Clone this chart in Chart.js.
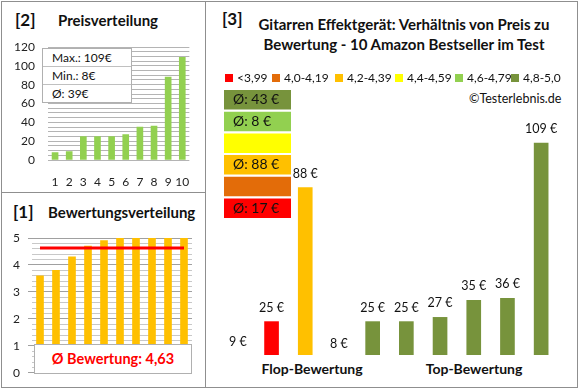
<!DOCTYPE html>
<html>
<head>
<meta charset="utf-8">
<script src="https://cdn.jsdelivr.net/npm/chart.js@4.4.1/dist/chart.umd.min.js"></script>
<style>
body { margin: 0; width: 580px; height: 390px; background: #fff; position: relative; overflow: hidden; font-family: Lato, sans-serif; color: #111; }
canvas { position: absolute; }
.ln { position: absolute; background: #8f8f8f; }
.t { position: absolute; white-space: nowrap; }
.hd { font-weight: bold; font-size: 15px; }
.num { font-size: 17px; font-weight: bold; }
.info { position: absolute; left: 42px; top: 48px; width: 88px; background: #fff; border: 1px solid #b0b0b0; font-size: 12px; }
.info div { height: 17px; line-height: 17px; padding-left: 9px; border-top: 1px solid #c0c0c0; }
.info div:first-child { border-top: none; }
.avgbox { position: absolute; left: 34px; top: 344px; width: 156px; height: 28px; background: #fff; border: 1px solid #b0b0b0; color: #ff0000; font-size: 14.5px; font-weight: bold; line-height: 28px; text-align: center; }
.lg { position: absolute; top: 71px; font-size: 12px; height: 14px; line-height: 14px; }
.lg span { display: inline-block; width: 8px; height: 8px; margin-right: 4px; vertical-align: 0px; }
</style>
</head>
<body>
<div class="ln" style="left:1px;top:1px;width:577px;height:1px"></div>
<div class="ln" style="left:1px;top:387px;width:577px;height:1px"></div>
<div class="ln" style="left:1px;top:1px;width:1px;height:387px"></div>
<div class="ln" style="left:577px;top:1px;width:1px;height:387px"></div>
<div class="ln" style="left:205px;top:1px;width:1px;height:387px"></div>
<div class="ln" style="left:1px;top:192px;width:204px;height:1px"></div>

<div class="t num" style="left:15px;top:9px">[2]</div>
<div class="t hd" style="left:58px;top:11px">Preisverteilung</div>
<div class="t num" style="left:13px;top:201px">[1]</div>
<div class="t hd" style="left:48px;top:203px">Bewertungsverteilung</div>
<div class="t num" style="left:222px;top:8px">[3]</div>
<div class="t hd" style="left:244px;top:14px;width:320px;text-align:center;font-size:15px;line-height:20px">Gitarren Effektgerät: Verhältnis von Preis zu<br>Bewertung - 10 Amazon Bestseller im Test</div>
<div class="t" style="left:469px;top:91px;font-size:12.5px">©Testerlebnis.de</div>
<div class="t hd" style="left:312px;top:360px;transform:translateX(-50%);font-size:14px">Flop-Bewertung</div>
<div class="t hd" style="left:474px;top:360px;transform:translateX(-50%);font-size:14px">Top-Bewertung</div>

<canvas id="c2" width="205" height="192" style="left:0;top:0"></canvas>
<canvas id="c1" width="205" height="196" style="left:0;top:192px"></canvas>
<canvas id="c3" width="373" height="388" style="left:205px;top:0"></canvas>
<canvas id="c4" width="67" height="130" style="left:224px;top:89px"></canvas>

<div class="info" id="info"></div>
<div class="avgbox" id="avg"></div>
<div id="legend"></div>

<script>
// panel [2] - prices sorted
const priceRanks = ['1', '2', '3', '4', '5', '6', '7', '8', '9', '10'];
const prices = [8, 9, 25, 25, 25, 27, 35, 36, 88, 109];
const priceInfo = ['Max.: 109€', 'Min.: 8€', 'Ø: 39€'];

// panel [1] - ratings sorted
const ratings = [3.6, 3.8, 4.3, 4.7, 4.9, 5.0, 5.0, 5.0, 5.0, 5.0];
const ratingAvg = 4.63;
const ratingAvgText = 'Ø Bewertung: 4,63';

// panel [3] - price per product, ordered by rating
const products = ['P1', 'P2', 'P3', 'P4', 'P5', 'P6', 'P7', 'P8', 'P9', 'P10'];
const productPrices = [9, 25, 88, 8, 25, 25, 27, 35, 36, 109];
const productColors = ['#FF0000', '#FF0000', '#FFC000', '#92D050', '#77933C', '#77933C', '#77933C', '#77933C', '#77933C', '#77933C'];

const legendLabels = ['<3,99', '4,0-4,19', '4,2-4,39', '4,4-4,59', '4,6-4,79', '4,8-5,0'];
const legendColors = ['#FF0000', '#E36C09', '#FFC000', '#FFFF00', '#92D050', '#77933C'];
const legendLeft = [225, 272, 335, 395, 455, 511];

// average boxes, top to bottom
const groupNames = ['4,8-5,0', '4,6-4,79', '4,4-4,59', '4,2-4,39', '4,0-4,19', '<3,99'];
const groupLabels = ['Ø: 43 €', 'Ø: 8 €', '', 'Ø: 88 €', '', 'Ø: 17 €'];
const groupColors = ['#77933C', '#92D050', '#FFFF00', '#FFC000', '#E36C09', '#FF0000'];

const FONT = 'Lato';
Chart.defaults.font.family = FONT;
Chart.defaults.animation = false;
Chart.defaults.responsive = false;
Chart.defaults.plugins.legend.display = false;
Chart.defaults.plugins.tooltip.enabled = false;

document.getElementById('info').innerHTML = priceInfo.map(s => '<div>' + s + '</div>').join('');
document.getElementById('avg').textContent = ratingAvgText;
document.getElementById('legend').innerHTML = legendLabels.map((l, i) =>
    '<div class="lg" style="left:' + legendLeft[i] + 'px"><span style="background:' + legendColors[i] + '"></span>' + l + '</div>').join('');

function isStep(v, s) {
    return Math.abs(v / s - Math.round(v / s)) < 1e-6;
}

new Chart(document.getElementById('c2'), {
    type: 'bar',
    data: {
        labels: priceRanks,
        datasets: [{ data: prices, backgroundColor: '#92D050', barThickness: 6 }]
    },
    options: {
        layout: { padding: { left: 0, top: 47, right: 15, bottom: 0 } },
        scales: {
            x: {
                grid: { display: false, drawTicks: false },
                border: { display: false },
                ticks: { padding: 15, autoSkip: false, maxRotation: 0, minRotation: 0, color: '#222', font: { size: 12 } },
                afterFit(a) { a.height = 32; }
            },
            y: {
                min: 0,
                max: 120,
                border: { display: false },
                grid: { drawTicks: false, color: '#b4b4b4' },
                ticks: {
                    stepSize: 5, autoSkip: false, maxTicksLimit: 100, padding: 13,
                    color: '#222', font: { size: 12 },
                    callback: v => isStep(v, 20) ? Math.round(v) : ''
                },
                afterFit(a) { a.width = 48; }
            }
        }
    }
});

new Chart(document.getElementById('c1'), {
    type: 'bar',
    data: {
        labels: priceRanks,
        datasets: [
            { type: 'line', data: ratings.map(() => ratingAvg), borderColor: '#FF0000', borderWidth: 3, pointRadius: 0, order: 0 },
            { data: ratings, backgroundColor: '#FFC000', barThickness: 7, order: 1 }
        ]
    },
    options: {
        layout: { padding: { left: 0, top: 46, right: 13, bottom: 15 } },
        scales: {
            x: { display: false },
            y: {
                min: 0,
                max: 5,
                border: { display: false },
                grid: {
                    tickLength: 4,
                    color: c => isStep(c.tick.value, 1) ? '#a0a0a0' : '#c8c8c8',
                    tickColor: c => isStep(c.tick.value, 1) ? '#a0a0a0' : 'rgba(0,0,0,0)'
                },
                ticks: {
                    stepSize: 0.2, autoSkip: false, maxTicksLimit: 100, padding: 8,
                    color: '#222', font: { size: 12 },
                    callback: v => isStep(v, 1) ? Math.round(v) : ''
                },
                afterFit(a) { a.width = 32; }
            }
        }
    }
});

const priceLabels = {
    id: 'priceLabels',
    afterDatasetsDraw(chart) {
        const ctx = chart.ctx;
        const meta = chart.getDatasetMeta(0);
        ctx.save();
        ctx.font = '12.5px ' + FONT;
        ctx.fillStyle = '#111';
        ctx.textAlign = 'center';
        ctx.textBaseline = 'middle';
        meta.data.forEach((bar, i) => {
            const y = Math.min(bar.y, bar.base) - 14;
            ctx.fillText(productPrices[i] + ' €', bar.x, y);
        });
        ctx.restore();
    }
};

new Chart(document.getElementById('c3'), {
    type: 'bar',
    data: {
        labels: products,
        datasets: [{ data: productPrices, backgroundColor: productColors, barThickness: 14 }]
    },
    options: {
        layout: { padding: { left: 16, top: 109, right: 20, bottom: 33 } },
        scales: {
            x: { display: false },
            y: { display: false, min: 9.3, max: 125 }
        }
    },
    plugins: [priceLabels]
});

const groupText = {
    id: 'groupText',
    afterDatasetsDraw(chart) {
        const ctx = chart.ctx;
        const meta = chart.getDatasetMeta(0);
        ctx.save();
        ctx.font = '14px ' + FONT;
        ctx.fillStyle = '#111';
        ctx.textAlign = 'left';
        ctx.textBaseline = 'middle';
        meta.data.forEach((bar, i) => {
            if (groupLabels[i]) ctx.fillText(groupLabels[i], chart.chartArea.left + 9, bar.y);
        });
        ctx.restore();
    }
};

new Chart(document.getElementById('c4'), {
    type: 'bar',
    data: {
        labels: groupNames,
        datasets: [{ data: groupNames.map(() => 1), backgroundColor: groupColors, barPercentage: 0.9, categoryPercentage: 1 }]
    },
    options: {
        indexAxis: 'y',
        scales: {
            x: { display: false, min: 0, max: 1 },
            y: { display: false }
        }
    },
    plugins: [groupText]
});
</script>
</body>
</html>
